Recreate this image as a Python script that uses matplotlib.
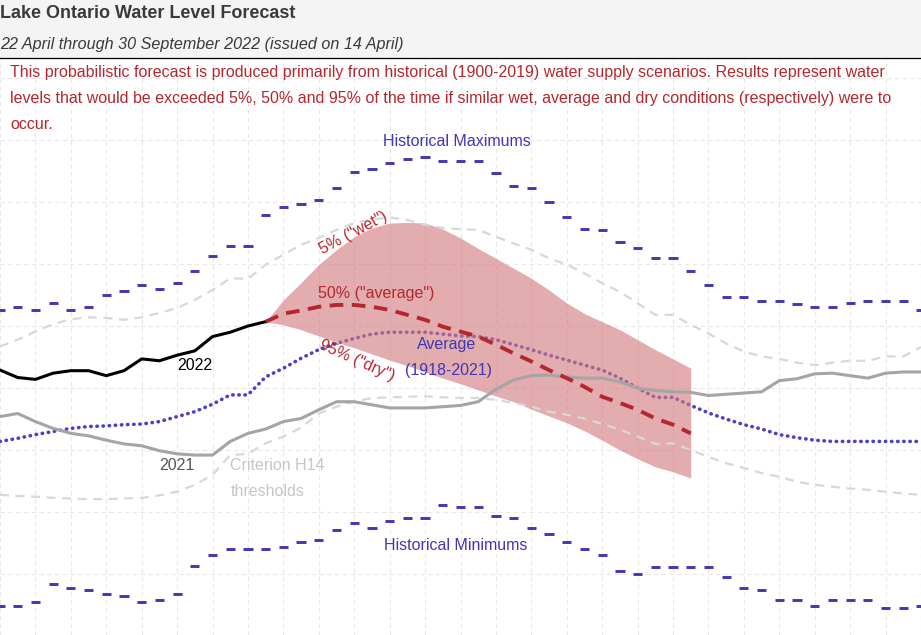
import matplotlib
matplotlib.use("Agg")
import matplotlib.pyplot as plt
from matplotlib.lines import Line2D
from matplotlib.patches import Rectangle
import numpy as np

plt.rcParams["font.family"] = ["Liberation Sans", "DejaVu Sans"]

# weekly water levels (m), week 0 = left edge of the crop
weeks = np.arange(53)
hist_max = [75.126, 75.130, 75.126, 75.137, 75.126, 75.130, 75.150, 75.156, 75.166, 75.159,
            75.170, 75.189, 75.213, 75.229, 75.229, 75.279, 75.292, 75.296, 75.303, 75.322,
            75.349, 75.353, 75.362, 75.369, 75.373, 75.366, 75.366, 75.366, 75.346, 75.326,
            75.322, 75.300, 75.276, 75.256, 75.254, 75.236, 75.226, 75.210, 75.210, 75.189,
            75.166, 75.146, 75.146, 75.140, 75.140, 75.136, 75.130, 75.130, 75.137, 75.140,
            75.140, 75.140, 75.126]
hist_min = [74.648, 74.648, 74.655, 74.684, 74.678, 74.675, 74.668, 74.665, 74.655, 74.659,
            74.668, 74.714, 74.731, 74.741, 74.741, 74.741, 74.744, 74.752, 74.755, 74.771,
            74.782, 74.775, 74.785, 74.791, 74.791, 74.812, 74.809, 74.809, 74.794, 74.791,
            74.774, 74.765, 74.752, 74.741, 74.731, 74.705, 74.701, 74.711, 74.711, 74.711,
            74.711, 74.695, 74.678, 74.675, 74.659, 74.659, 74.648, 74.659, 74.659, 74.659,
            74.645, 74.645, 74.649]
average = [74.914, 74.919, 74.925, 74.930, 74.935, 74.938, 74.939, 74.941, 74.942, 74.946,
           74.954, 74.962, 74.974, 74.989, 74.989, 75.018, 75.032, 75.048, 75.062, 75.072,
           75.080, 75.087, 75.090, 75.090, 75.090, 75.087, 75.084, 75.083, 75.078, 75.070,
           75.062, 75.053, 75.045, 75.037, 75.029, 75.016, 75.000, 74.985, 74.985, 74.972,
           74.960, 74.950, 74.941, 74.934, 74.925, 74.920, 74.916, 74.914, 74.914, 74.914,
           74.914, 74.914, 74.914]
level_2021 = [74.954, 74.959, 74.946, 74.935, 74.927, 74.923, 74.916, 74.910, 74.907, 74.899,
              74.894, 74.892, 74.892, 74.914, 74.927, 74.934, 74.946, 74.951, 74.965, 74.978,
              74.978, 74.973, 74.968, 74.968, 74.968, 74.970, 74.972, 74.978, 74.998, 75.013,
              75.020, 75.021, 75.018, 75.016, 75.016, 75.010, 75.000, 74.996, 74.994, 74.993,
              74.988, 74.990, 74.992, 74.994, 75.012, 75.015, 75.023, 75.024, 75.020, 75.016,
              75.024, 75.026, 75.026]
h14_upper = [75.067, 75.078, 75.091, 75.103, 75.111, 75.114, 75.113, 75.110, 75.114, 75.121,
             75.129, 75.142, 75.158, 75.177, 75.176, 75.199, 75.215, 75.231, 75.242, 75.255,
             75.266, 75.272, 75.275, 75.271, 75.263, 75.258, 75.256, 75.255, 75.244, 75.233,
             75.223, 75.209, 75.199, 75.185, 75.169, 75.155, 75.137, 75.118, 75.118, 75.102,
             75.088, 75.072, 75.059, 75.051, 75.047, 75.041, 75.037, 75.041, 75.044, 75.044,
             75.051, 75.051, 75.066]
h14_lower = [74.828, 74.826, 74.825, 74.823, 74.822, 74.821, 74.821, 74.822, 74.823, 74.827,
             74.833, 74.844, 74.860, 74.892, 74.894, 74.911, 74.922, 74.936, 74.959, 74.970,
             74.978, 74.984, 74.985, 74.986, 74.987, 74.985, 74.984, 74.984, 74.981, 74.976,
             74.970, 74.962, 74.957, 74.951, 74.942, 74.933, 74.922, 74.910, 74.911, 74.900,
             74.889, 74.879, 74.871, 74.863, 74.857, 74.849, 74.844, 74.841, 74.838, 74.836,
             74.833, 74.830, 74.828]

weeks_2022 = np.arange(16)
level_2022 = [75.029, 75.017, 75.014, 75.024, 75.028, 75.028, 75.020, 75.028, 75.047, 75.044,
              75.053, 75.060, 75.083, 75.090, 75.100, 75.107]

fc_weeks = np.arange(15, 40)
fc_wet = [75.107, 75.142, 75.170, 75.199, 75.223, 75.244, 75.258, 75.266, 75.267, 75.266,
          75.256, 75.242, 75.225, 75.209, 75.193, 75.177, 75.158, 75.137, 75.120, 75.107,
          75.094, 75.078, 75.062, 75.047, 75.032]
fc_avg = [75.107, 75.120, 75.125, 75.131, 75.134, 75.134, 75.131, 75.126, 75.118, 75.110,
          75.099, 75.091, 75.083, 75.070, 75.056, 75.043, 75.029, 75.016, 75.002, 74.986,
          74.976, 74.965, 74.951, 74.941, 74.927]
fc_dry = [75.107, 75.102, 75.094, 75.084, 75.074, 75.065, 75.055, 75.045, 75.036, 75.026,
          75.016, 75.007, 74.997, 74.987, 74.978, 74.966, 74.955, 74.944, 74.931, 74.916,
          74.900, 74.886, 74.873, 74.865, 74.855]

blue = "#3f37b3"
red = "#b5272e"

fig = plt.figure(figsize=(9.21, 6.35), dpi=100)
ax = fig.add_axes([0, 0, 1, 577 / 635])

# header band
fig.patches.append(Rectangle((0, 577 / 635), 1, 58 / 635, transform=fig.transFigure,
                             color="#f4f4f4", zorder=0))
fig.add_artist(Line2D([0, 1], [577 / 635, 577 / 635], color="black", lw=0.9))

ax.set_xlim(0, 921 / 17.75)
ax.set_ylim(74.602, 75.532)
ax.set_xticks(np.arange(0, 53, 2))
ax.set_yticks(np.arange(74.7, 75.55, 0.1))
ax.tick_params(length=0, labelbottom=False, labelleft=False)
ax.grid(True, ls=(0, (4, 3)), color="#e8e8e8", lw=0.8)
ax.set_axisbelow(True)
for s in ax.spines.values():
    s.set_visible(False)

# historical extremes as short weekly bars
ax.hlines(hist_max, weeks - 0.26, weeks + 0.26, color=blue, lw=2.1, zorder=3)
ax.hlines(hist_min, weeks - 0.26, weeks + 0.26, color=blue, lw=2.1, zorder=3)

ax.plot(weeks, average, color="#4a42c6", lw=2.6, ls=(0, (0.1, 1.6)),
        dash_capstyle="round", zorder=2)

ax.fill_between(fc_weeks, fc_dry, fc_wet, color="#d3797c", alpha=0.62, lw=0, zorder=3)

ax.plot(weeks, h14_upper, color="#d8d8d8", lw=1.6, ls=(0, (4, 3)), zorder=4)
ax.plot(weeks, h14_lower, color="#d8d8d8", lw=1.6, ls=(0, (4, 3)), zorder=4)
ax.plot(weeks, level_2021, color="#a5a5a5", lw=2.2, zorder=5)
ax.plot(weeks_2022, level_2022, color="black", lw=2.2, zorder=6)
ax.plot(fc_weeks, fc_avg, color=red, lw=2.8, ls=(0, (3.5, 2.2)), zorder=6)

fs = 11.5
ax.text(25.8, 75.397, "Historical Maximums", color=blue, fontsize=fs, ha="center", va="center")
ax.text(25.75, 74.747, "Historical Minimums", color=blue, fontsize=fs, ha="center", va="center")
ax.text(25.2, 75.071, "Average", color=blue, fontsize=fs, ha="center", va="center", zorder=7)
ax.text(25.35, 75.029, "(1918-2021)", color=blue, fontsize=fs, ha="center", va="center", zorder=7)
ax.text(11.0, 75.037, "2022", color="black", fontsize=fs, ha="center", va="center")
ax.text(9.97, 74.876, "2021", color="#555555", fontsize=fs, ha="center", va="center")
ax.text(13.0, 74.876, "Criterion H14", color="#c6c6c6", fontsize=fs, ha="left", va="center")
ax.text(13.0, 74.834, "thresholds", color="#c6c6c6", fontsize=fs, ha="left", va="center")
ax.text(19.94, 75.250, '5% ("wet")', color=red, fontsize=fs, ha="center", va="center",
        rotation=28, rotation_mode="anchor", zorder=7)
ax.text(21.24, 75.153, '50% ("average")', color=red, fontsize=fs, ha="center", va="center", zorder=7)
ax.text(20.17, 75.045, '95% ("dry")', color=red, fontsize=fs, ha="center", va="center",
        rotation=-24, rotation_mode="anchor", zorder=7)

# header text
fig.text(0.0, 1 - 13 / 635, "Lake Ontario Water Level Forecast", fontsize=13,
         fontweight="bold", color="#3a3a3a", ha="left", va="center")
fig.text(0.0, 1 - 44 / 635, "22 April through 30 September 2022 (issued on 14 April)",
         fontsize=11.6, style="italic", color="#3a3a3a", ha="left", va="center")
notes = [
    "This probabilistic forecast is produced primarily from historical (1900-2019) water supply scenarios. Results represent water",
    "levels that would be exceeded 5%, 50% and 95% of the time if similar wet, average and dry conditions (respectively) were to",
    "occur.",
]
for line, ypx in zip(notes, [73, 99, 124]):
    fig.text(10 / 921, 1 - ypx / 635, line, fontsize=11.5, color=red, ha="left", va="center")

fig.savefig("out.png", dpi=100)
